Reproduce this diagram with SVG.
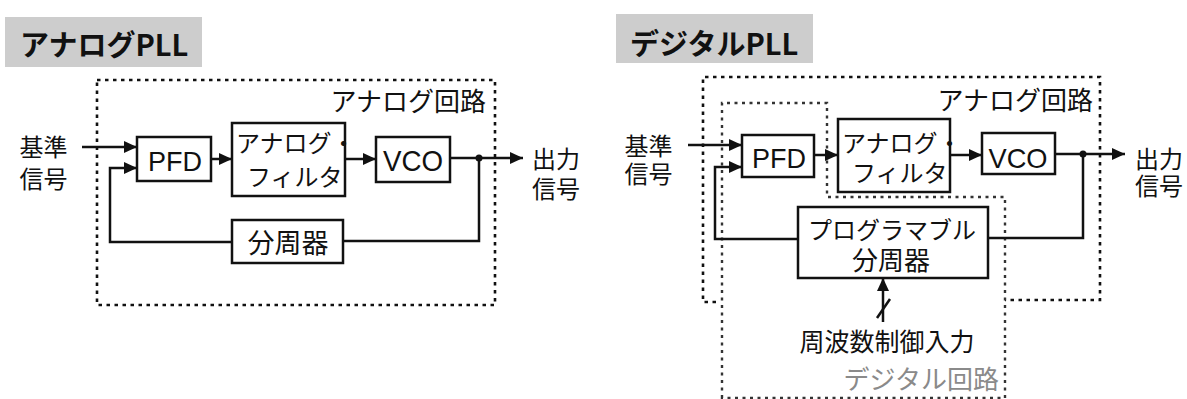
<svg xmlns="http://www.w3.org/2000/svg" width="1187" height="399" viewBox="0 0 1187 399">
<style>
.jp{font-family:"Noto Sans CJK JP","Noto Sans",sans-serif;fill:#111}
.lat{font-family:"Liberation Sans",Arial,sans-serif;fill:#111}
.title{font-family:"Noto Sans CJK JP","Noto Sans",sans-serif;font-weight:bold;font-size:29px;fill:#111}
.box{fill:#fff;stroke:#111;stroke-width:2.5}
.wire{fill:none;stroke:#111;stroke-width:2.5}
.ana{fill:none;stroke:#111;stroke-width:2.6;stroke-dasharray:3.5 4.5}
.dig{fill:none;stroke:#333;stroke-width:2.4;stroke-dasharray:3 4.5}
.tbg{fill:#cdcdcd}
</style>
<defs>
<marker id="arr" markerUnits="userSpaceOnUse" markerWidth="14" markerHeight="12" refX="13" refY="6" orient="auto">
<path d="M0,0 L13,6 L0,12 Z" fill="#111"/>
</marker>
</defs>
<rect width="1187" height="399" fill="#fff"/>

<!-- Left: Analog PLL -->
<g id="title-analog">
<rect class="tbg" x="5" y="17" width="197" height="50"/>
<text class="title" x="20" y="56">アナログPLL</text>
</g>
<g id="analog-region">
<rect class="ana" x="97" y="80" width="398" height="225"/>
<text class="jp" x="486" y="111" font-size="26" text-anchor="end">アナログ回路</text>
</g>
<g id="ref-in-L">
<text class="jp" font-size="24" text-anchor="middle"><tspan x="43.5" y="156">基準</tspan><tspan x="43.5" y="188">信号</tspan></text>
</g>
<g id="out-L">
<text class="jp" font-size="24" text-anchor="middle"><tspan x="556" y="168">出力</tspan><tspan x="556" y="198">信号</tspan></text>
</g>
<g id="pfd-L">
<rect class="box" x="137" y="137" width="74" height="44"/>
<text class="lat" x="175" y="171" font-size="27" text-anchor="middle">PFD</text>
</g>
<g id="filter-L">
<rect class="box" x="232" y="123" width="113" height="73"/>
<text class="jp" font-size="24"><tspan x="236" y="152">アナログ・</tspan><tspan x="247" y="186">フィルタ</tspan></text>
</g>
<g id="vco-L">
<rect class="box" x="376" y="137" width="74" height="45"/>
<text class="lat" x="413" y="171" font-size="29" text-anchor="middle" textLength="60" lengthAdjust="spacingAndGlyphs">VCO</text>
</g>
<g id="div-L">
<rect class="box" x="232" y="220" width="111" height="43"/>
<text class="jp" x="288" y="253" font-size="27" text-anchor="middle">分周器</text>
</g>
<g id="connectors-L">
<line class="wire" x1="82" y1="147" x2="137" y2="147" marker-end="url(#arr)"/>
<polyline class="wire" points="232,242 110,242 110,168 137,168" marker-end="url(#arr)"/>
<line class="wire" x1="211" y1="159" x2="232" y2="159" marker-end="url(#arr)"/>
<line class="wire" x1="345" y1="159" x2="376" y2="159" marker-end="url(#arr)"/>
<line class="wire" x1="450" y1="158" x2="523" y2="158" marker-end="url(#arr)"/>
<polyline class="wire" points="479,158 479,241 343,241"/>
<circle cx="479" cy="158" r="3.5" fill="#111"/>
</g>

<!-- Right: Digital PLL -->
<g id="title-digital">
<rect class="tbg" x="616" y="14" width="197" height="49"/>
<text class="title" x="630" y="55">デジタルPLL</text>
</g>
<g id="analog-region-R">
<path class="ana" d="M716,302 L703,302 L703,77 L1100,77 L1100,300 L1005,300"/>
<text class="jp" x="1093" y="110" font-size="26" text-anchor="end">アナログ回路</text>
</g>
<g id="digital-region">
<path class="dig" d="M722,398 L722,103 L827,103 L827,197 L1005,197 L1005,398 Z"/>
<text x="999" y="389" font-size="26" text-anchor="end" style="font-family:'Noto Sans CJK JP','Noto Sans',sans-serif;fill:#8a8a8a">デジタル回路</text>
</g>
<g id="ref-in-R">
<text class="jp" font-size="24" text-anchor="middle"><tspan x="648.5" y="155">基準</tspan><tspan x="648.5" y="183">信号</tspan></text>
</g>
<g id="out-R">
<text class="jp" font-size="24" text-anchor="middle"><tspan x="1159" y="168">出力</tspan><tspan x="1159" y="195">信号</tspan></text>
</g>
<g id="pfd-R">
<rect class="box" x="742" y="135" width="72" height="42"/>
<text class="lat" x="779" y="168" font-size="27" text-anchor="middle">PFD</text>
</g>
<g id="filter-R">
<rect class="box" x="838" y="119" width="112" height="73"/>
<text class="jp" font-size="24"><tspan x="842" y="152">アナログ・</tspan><tspan x="852" y="182">フィルタ</tspan></text>
</g>
<g id="vco-R">
<rect class="box" x="982" y="133" width="73" height="41"/>
<text class="lat" x="1018" y="168" font-size="28" text-anchor="middle" textLength="59" lengthAdjust="spacingAndGlyphs">VCO</text>
</g>
<g id="progdiv-R">
<rect class="box" x="798" y="207" width="190" height="71"/>
<text class="jp" text-anchor="middle"><tspan x="892" y="239" font-size="24">プログラマブル</tspan><tspan x="891" y="270" font-size="26">分周器</tspan></text>
</g>
<g id="freq-ctrl">
<text class="jp" x="887" y="351" font-size="25" text-anchor="middle">周波数制御入力</text>
</g>
<g id="connectors-R">
<line class="wire" x1="688" y1="145" x2="742" y2="145" marker-end="url(#arr)"/>
<polyline class="wire" points="798,239 715,239 715,167 742,167" marker-end="url(#arr)"/>
<line class="wire" x1="814" y1="155" x2="838" y2="155" marker-end="url(#arr)"/>
<line class="wire" x1="950" y1="155" x2="982" y2="155" marker-end="url(#arr)"/>
<line class="wire" x1="1055" y1="154" x2="1125" y2="154" marker-end="url(#arr)"/>
<polyline class="wire" points="1083,154 1083,238 988,238"/>
<circle cx="1083" cy="154" r="3.5" fill="#111"/>
<line class="wire" x1="883" y1="322" x2="883" y2="278" marker-end="url(#arr)"/>
<line class="wire" x1="877" y1="318" x2="890" y2="299"/>
</g>
</svg>
